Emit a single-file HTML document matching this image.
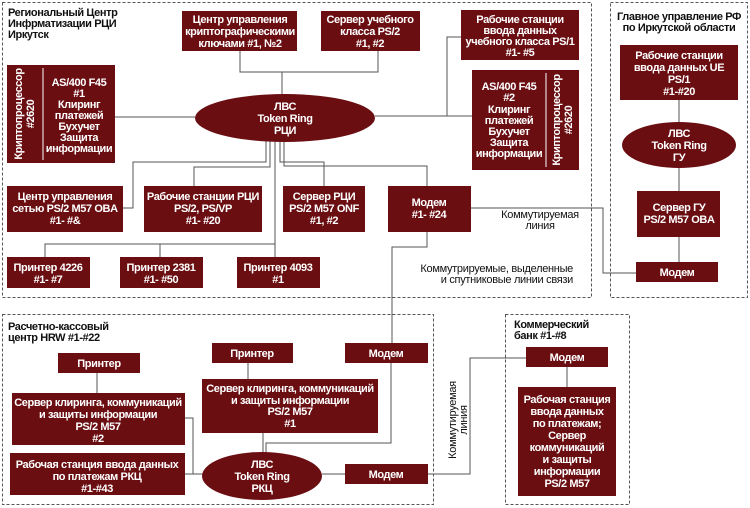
<!DOCTYPE html>
<html><head><meta charset="utf-8"><style>
html,body{margin:0;padding:0;background:#fff;}
svg{display:block}
text{font-family:"Liberation Sans","DejaVu Sans",sans-serif;font-weight:bold;font-size:11px;letter-spacing:-0.4px}
.w{fill:#fff;text-anchor:middle}
.k{fill:#111}
.n{font-weight:normal;letter-spacing:-0.3px}
rect.b,ellipse{fill:#6a0e12}
.l{stroke:#555;stroke-width:1;fill:none}
.d{stroke:#555;stroke-width:1;fill:none;stroke-dasharray:3,2}
</style></head><body>
<svg width="750" height="508" viewBox="0 0 750 508" xmlns="http://www.w3.org/2000/svg">
<rect class="d" x="2.5" y="2.5" width="589" height="295"/>
<rect class="d" x="610.5" y="2.5" width="137" height="295"/>
<rect class="d" x="2.5" y="314.5" width="431" height="190"/>
<rect class="d" x="505.5" y="314.5" width="124" height="190"/>

<polyline class="l" points="240,51 240,72 378,72 378,51"/>
<line class="l" x1="282" y1="72" x2="282" y2="94"/>
<polyline class="l" points="461,37 447,37 447,116 375,116"/>
<line class="l" x1="375" y1="116" x2="472" y2="116"/>
<line class="l" x1="115" y1="117" x2="195" y2="117"/>
<polyline class="l" points="266,141 266,162 133,162 133,208 123,208"/>
<polyline class="l" points="270,141 270,167 194,167 194,186"/>
<line class="l" x1="275" y1="141" x2="275" y2="257"/>
<polyline class="l" points="45,257 45,244 275,244"/>
<line class="l" x1="160" y1="244" x2="160" y2="257"/>
<polyline class="l" points="280,141 280,162 324,162 324,186"/>
<polyline class="l" points="284,141 284,166 427,166 427,186"/>
<polyline class="l" points="471,208 603,208 603,273 636,273"/>
<polyline class="l" points="427,232 427,247 392,247 392,343"/>
<line class="l" x1="679" y1="100" x2="679" y2="122"/>
<line class="l" x1="679" y1="168" x2="679" y2="191"/>
<line class="l" x1="679" y1="237" x2="679" y2="262"/>
<line class="l" x1="97" y1="373" x2="97" y2="393"/>
<line class="l" x1="248" y1="363" x2="248" y2="379"/>
<polyline class="l" points="185,418 193,418 193,474 203,474"/>
<line class="l" x1="185" y1="474" x2="203" y2="474"/>
<line class="l" x1="263" y1="433" x2="263" y2="453"/>
<polyline class="l" points="391,363 391,443 266,443 266,453"/>
<line class="l" x1="322" y1="474" x2="345" y2="474"/>
<polyline class="l" points="428,474 470,474 470,358 526,358"/>
<line class="l" x1="567" y1="367" x2="567" y2="387"/>

<text class="k" x="8" y="16">Региональный Центр</text>
<text class="k" x="8" y="27">Инфрматизации РЦИ</text>
<text class="k" x="8" y="38">Иркутск</text>
<text class="k" x="679" y="20" text-anchor="middle">Главное управление РФ</text>
<text class="k" x="679" y="31" text-anchor="middle">по Иркутской области</text>
<text class="k" x="8" y="330">Расчетно-кассовый</text>
<text class="k" x="8" y="341">центр HRW #1-#22</text>
<text class="k" x="514" y="328">Коммерческий</text>
<text class="k" x="514" y="339">банк #1-#8</text>

<text class="k n" x="540" y="218" text-anchor="middle">Коммутируемая</text>
<text class="k n" x="540" y="229" text-anchor="middle">линия</text>
<text class="k n" x="573" y="272" text-anchor="end">Коммутрируемые, выделенные</text>
<text class="k n" x="573" y="283" text-anchor="end">и спутниковые линии связи</text>
<g transform="translate(458,420) rotate(-90)">
<text class="k n" x="0" y="-2" text-anchor="middle">Коммутируемая</text>
<text class="k n" x="0" y="9" text-anchor="middle">линия</text>
</g>

<rect class="b" x="182" y="11" width="115" height="40"/>
<text class="w" x="240" y="23">Центр управления</text>
<text class="w" x="240" y="35">криптографическими</text>
<text class="w" x="240" y="47">ключами #1, №2</text>
<rect class="b" x="321" y="11" width="99" height="40"/>
<text class="w" x="370" y="23">Сервер учебного</text>
<text class="w" x="370" y="35">класса PS/2</text>
<text class="w" x="370" y="47">#1, #2</text>
<rect class="b" x="461" y="10" width="118" height="50"/>
<text class="w" x="520" y="23">Рабочие станции</text>
<text class="w" x="520" y="34">ввода данных</text>
<text class="w" x="520" y="45">учебного класса PS/1</text>
<text class="w" x="520" y="56">#1- #5</text>

<rect class="b" x="7" y="65" width="108" height="98"/>
<line x1="43" y1="68" x2="43" y2="160" stroke="#fff" stroke-width="1"/>
<g transform="translate(25,114) rotate(-90)">
<text class="w" x="0" y="-3">Криптопроцессор</text>
<text class="w" x="0" y="9">#2620</text>
</g>
<text class="w" x="79" y="86">AS/400 F45</text>
<text class="w" x="79" y="97">#1</text>
<text class="w" x="79" y="108">Клиринг</text>
<text class="w" x="79" y="119">платежей</text>
<text class="w" x="79" y="130">Бухучет</text>
<text class="w" x="79" y="141">Защита</text>
<text class="w" x="79" y="152">информации</text>

<rect class="b" x="472" y="70" width="107" height="100"/>
<line x1="546" y1="73" x2="546" y2="167" stroke="#fff" stroke-width="1"/>
<g transform="translate(563,120) rotate(-90)">
<text class="w" x="0" y="-3">Криптопроцессор</text>
<text class="w" x="0" y="9">#2620</text>
</g>
<text class="w" x="509" y="90">AS/400 F45</text>
<text class="w" x="509" y="101">#2</text>
<text class="w" x="509" y="113">Клиринг</text>
<text class="w" x="509" y="124">платежей</text>
<text class="w" x="509" y="135">Бухучет</text>
<text class="w" x="509" y="146">Защита</text>
<text class="w" x="509" y="157">информации</text>

<ellipse cx="285" cy="118" rx="90" ry="24"/>
<text class="w" x="285" y="110">ЛВС</text>
<text class="w" x="285" y="122">Token Ring</text>
<text class="w" x="285" y="134">РЦИ</text>

<rect class="b" x="7" y="186" width="116" height="46"/>
<text class="w" x="65" y="200">Центр управления</text>
<text class="w" x="65" y="212">сетью PS/2 M57 OBA</text>
<text class="w" x="65" y="224">#1- #&amp;</text>
<rect class="b" x="144" y="186" width="118" height="46"/>
<text class="w" x="203" y="200">Рабочие станции РЦИ</text>
<text class="w" x="203" y="212">PS/2, PS/VP</text>
<text class="w" x="203" y="224">#1- #20</text>
<rect class="b" x="283" y="186" width="82" height="46"/>
<text class="w" x="324" y="200">Сервер РЦИ</text>
<text class="w" x="324" y="212">PS/2 M57 ONF</text>
<text class="w" x="324" y="224">#1, #2</text>
<rect class="b" x="388" y="186" width="83" height="46"/>
<text class="w" x="429" y="206">Модем</text>
<text class="w" x="429" y="218">#1- #24</text>

<rect class="b" x="7" y="257" width="83" height="31"/>
<text class="w" x="48" y="271">Принтер 4226</text>
<text class="w" x="48" y="283">#1- #7</text>
<rect class="b" x="120" y="257" width="83" height="31"/>
<text class="w" x="161" y="271">Принтер 2381</text>
<text class="w" x="161" y="283">#1- #50</text>
<rect class="b" x="237" y="257" width="83" height="31"/>
<text class="w" x="278" y="271">Принтер 4093</text>
<text class="w" x="278" y="283">#1</text>

<rect class="b" x="620" y="45" width="118" height="55"/>
<text class="w" x="679" y="59">Рабочие станции</text>
<text class="w" x="679" y="71">ввода данных UE</text>
<text class="w" x="679" y="83">PS/1</text>
<text class="w" x="679" y="95">#1-#20</text>
<ellipse cx="679" cy="145" rx="57" ry="23"/>
<text class="w" x="679" y="137">ЛВС</text>
<text class="w" x="679" y="149">Token Ring</text>
<text class="w" x="679" y="161">ГУ</text>
<rect class="b" x="637" y="191" width="83" height="46"/>
<text class="w" x="679" y="211">Сервер ГУ</text>
<text class="w" x="679" y="223">PS/2 M57 OBA</text>
<rect class="b" x="636" y="262" width="82" height="20"/>
<text class="w" x="677" y="276">Модем</text>

<rect class="b" x="58" y="353" width="82" height="20"/>
<text class="w" x="99" y="367">Принтер</text>
<rect class="b" x="212" y="343" width="81" height="20"/>
<text class="w" x="252" y="357">Принтер</text>
<rect class="b" x="345" y="343" width="83" height="20"/>
<text class="w" x="386" y="357">Модем</text>
<rect class="b" x="12" y="393" width="173" height="52"/>
<text class="w" x="98" y="406">Сервер клиринга, коммуникаций</text>
<text class="w" x="98" y="418">и защиты информации</text>
<text class="w" x="98" y="430">PS/2 M57</text>
<text class="w" x="98" y="442">#2</text>
<rect class="b" x="10" y="453" width="175" height="42"/>
<text class="w" x="97" y="468">Рабочая станция ввода данных</text>
<text class="w" x="97" y="480">по платежам РКЦ</text>
<text class="w" x="97" y="492">#1-#43</text>
<rect class="b" x="202" y="379" width="176" height="54"/>
<text class="w" x="290" y="392">Сервер клиринга, коммуникаций</text>
<text class="w" x="290" y="404">и защиты информации</text>
<text class="w" x="290" y="415">PS/2 M57</text>
<text class="w" x="290" y="427">#1</text>
<ellipse cx="262" cy="476" rx="60" ry="24"/>
<text class="w" x="262" y="468">ЛВС</text>
<text class="w" x="262" y="480">Token Ring</text>
<text class="w" x="262" y="492">РКЦ</text>
<rect class="b" x="345" y="464" width="83" height="20"/>
<text class="w" x="386" y="478">Модем</text>

<rect class="b" x="526" y="347" width="82" height="20"/>
<text class="w" x="567" y="361">Модем</text>
<rect class="b" x="518" y="387" width="98" height="109"/>
<text class="w" x="567" y="403">Рабочая станция</text>
<text class="w" x="567" y="415">ввода данных</text>
<text class="w" x="567" y="427">по платежам;</text>
<text class="w" x="567" y="439">Сервер</text>
<text class="w" x="567" y="451">коммуникаций</text>
<text class="w" x="567" y="463">и защиты</text>
<text class="w" x="567" y="475">информации</text>
<text class="w" x="567" y="487">PS/2 M57</text>
</svg>
</body></html>
